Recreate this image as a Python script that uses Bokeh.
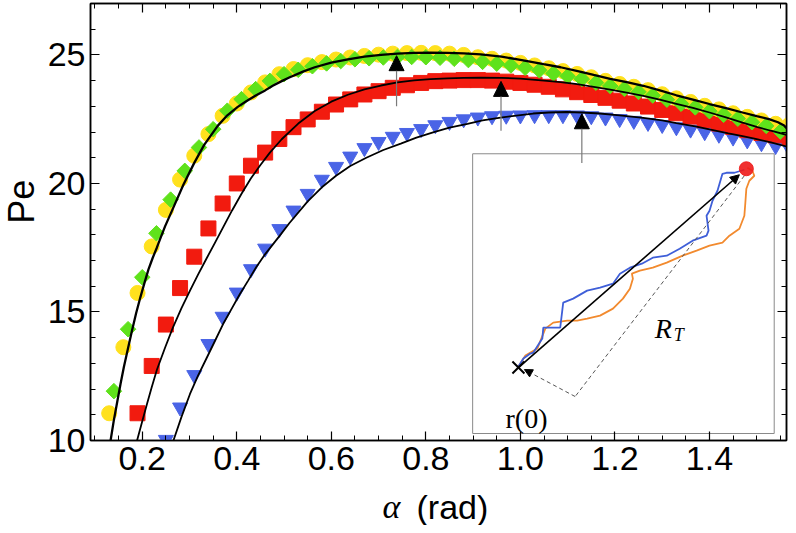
import numpy as np
from bokeh.plotting import figure
from bokeh.layouts import column, row
from bokeh.models import (Range1d, LinearAxis, SingleIntervalTicker, PrintfTickFormatter,
                          Label, Arrow, NormalHead)
from bokeh.core.properties import value
from bokeh.embed import file_html
from bokeh.resources import INLINE

# ---------------- data ----------------
yellow_alpha = [0.13, 0.16, 0.19, 0.22, 0.25, 0.28, 0.31, 0.34, 0.37, 0.40, 0.43, 0.46, 0.49,
                0.52, 0.55, 0.58, 0.61, 0.64, 0.67, 0.70, 0.73, 0.76, 0.79, 0.82, 0.85, 0.88,
                0.91, 0.94, 0.97, 1.00, 1.03, 1.06, 1.09, 1.12, 1.15, 1.18, 1.21, 1.24, 1.27,
                1.30, 1.33, 1.36, 1.39, 1.42, 1.45, 1.48, 1.51, 1.54, 1.57]
yellow_pe = [11.06, 13.63, 15.74, 17.55, 18.97, 20.15, 21.08, 21.92, 22.63, 23.11, 23.54, 23.93, 24.25,
             24.45, 24.60, 24.72, 24.82, 24.90, 24.96, 25.01, 25.05, 25.07, 25.08, 25.07, 25.05, 25.00,
             24.91, 24.85, 24.78, 24.69, 24.59, 24.48, 24.37, 24.26, 24.13, 23.99, 23.87, 23.76, 23.63,
             23.47, 23.31, 23.17, 23.02, 22.88, 22.73, 22.59, 22.45, 22.32, 22.30]

green_alpha = [0.14, 0.17, 0.20, 0.23, 0.26, 0.29, 0.32, 0.35, 0.38, 0.41, 0.44, 0.47, 0.50,
               0.53, 0.56, 0.59, 0.62, 0.65, 0.68, 0.71, 0.74, 0.77, 0.80, 0.83, 0.86, 0.89,
               0.92, 0.95, 0.98, 1.01, 1.04, 1.07, 1.10, 1.13, 1.16, 1.19, 1.22, 1.25, 1.28,
               1.31, 1.34, 1.37, 1.40, 1.43, 1.46, 1.49, 1.52, 1.55]
green_pe = [11.92, 14.33, 16.35, 18.06, 19.37, 20.49, 21.40, 22.11, 22.83, 23.28, 23.67, 23.99, 24.25,
            24.42, 24.56, 24.67, 24.76, 24.83, 24.87, 24.90, 24.92, 24.92, 24.91, 24.89, 24.85, 24.80,
            24.73, 24.66, 24.59, 24.50, 24.40, 24.28, 24.17, 24.06, 23.92, 23.79, 23.68, 23.56, 23.42,
            23.26, 23.10, 22.96, 22.81, 22.67, 22.52, 22.38, 22.24, 22.02]

red_alpha = [0.19, 0.22, 0.25, 0.28, 0.31, 0.34, 0.37, 0.40, 0.43, 0.46, 0.49, 0.52, 0.55,
             0.58, 0.61, 0.64, 0.67, 0.70, 0.73, 0.76, 0.79, 0.82, 0.85, 0.88, 0.91, 0.94,
             0.97, 1.00, 1.03, 1.06, 1.09, 1.12, 1.15, 1.18, 1.21, 1.24, 1.27, 1.30, 1.33,
             1.36, 1.39, 1.42, 1.45, 1.48, 1.51, 1.54, 1.57]
red_pe = [11.06, 12.90, 14.51, 15.93, 17.15, 18.25, 19.22, 20.00, 20.69, 21.20, 21.73, 22.19, 22.49,
          22.79, 23.07, 23.27, 23.46, 23.59, 23.72, 23.82, 23.91, 23.98, 24.00, 24.02, 24.02, 24.00,
          23.96, 23.91, 23.84, 23.76, 23.66, 23.55, 23.44, 23.33, 23.22, 23.11, 22.99, 22.86, 22.73,
          22.60, 22.46, 22.33, 22.20, 22.07, 21.96, 21.87, 21.79]

blue_alpha = [0.25, 0.28, 0.31, 0.34, 0.37, 0.40, 0.43, 0.46, 0.49, 0.52, 0.55, 0.58, 0.61,
              0.64, 0.67, 0.70, 0.73, 0.76, 0.79, 0.82, 0.85, 0.88, 0.91, 0.94, 0.97, 1.00,
              1.03, 1.06, 1.09, 1.12, 1.15, 1.18, 1.21, 1.24, 1.27, 1.30, 1.33, 1.36, 1.39,
              1.42, 1.45, 1.48, 1.51, 1.54, 1.57]
blue_pe = [10.03, 11.29, 12.55, 13.76, 14.82, 15.76, 16.67, 17.47, 18.23, 18.95, 19.60, 20.15, 20.65,
           21.05, 21.38, 21.62, 21.82, 21.97, 22.12, 22.27, 22.40, 22.50, 22.57, 22.62, 22.64, 22.65,
           22.66, 22.66, 22.66, 22.65, 22.62, 22.57, 22.51, 22.44, 22.36, 22.28, 22.19, 22.10, 22.00,
           21.90, 21.79, 21.68, 21.57, 21.46, 21.34]

# fitted (black) curves
fit1_alpha = [0.133, 0.140, 0.147, 0.154, 0.161, 0.170, 0.178, 0.187, 0.196, 0.205, 0.213, 0.222,
              0.231, 0.248, 0.266, 0.287, 0.310, 0.331, 0.360, 0.380, 0.402, 0.420, 0.440, 0.460,
              0.476, 0.495, 0.511, 0.540, 0.565, 0.600, 0.635, 0.670, 0.705, 0.740, 0.775, 0.810,
              0.846, 0.880, 0.916, 0.960, 1.000, 1.049, 1.085, 1.119, 1.155, 1.190, 1.225, 1.260,
              1.295, 1.330, 1.365, 1.400, 1.435, 1.470, 1.500, 1.526, 1.545, 1.558, 1.5708]
fit1_pe = [10.0, 10.8, 11.5, 12.2, 12.85, 13.6, 14.25, 14.95, 15.57, 16.15, 16.65, 17.1,
           17.51, 18.32, 19.07, 19.95, 20.8, 21.5, 22.25, 22.65, 22.98, 23.2, 23.42, 23.62,
           23.8, 23.98, 24.12, 24.35, 24.52, 24.7, 24.83, 24.93, 25.0, 25.05, 25.08, 25.09,
           25.08, 25.06, 25.02, 24.93, 24.81, 24.64, 24.52, 24.38, 24.22, 24.07, 23.94, 23.8,
           23.62, 23.43, 23.26, 23.09, 22.93, 22.76, 22.62, 22.5, 22.38, 22.25, 22.0]

fit2_alpha = [0.189, 0.200, 0.210, 0.220, 0.231, 0.248, 0.265, 0.283, 0.301, 0.318, 0.336, 0.354,
              0.371, 0.390, 0.410, 0.430, 0.450, 0.470, 0.495, 0.530, 0.565, 0.600, 0.635, 0.670,
              0.705, 0.740, 0.775, 0.810, 0.846, 0.880, 0.916, 0.960, 1.000, 1.050, 1.085, 1.120,
              1.155, 1.190, 1.225, 1.260, 1.295, 1.330, 1.365, 1.400, 1.435, 1.470, 1.500, 1.530, 1.5708]
fit2_pe = [10.0, 10.75, 11.42, 12.07, 12.75, 13.6, 14.4, 15.15, 15.83, 16.45, 17.08, 17.7,
           18.29, 18.95, 19.6, 20.2, 20.72, 21.2, 21.72, 22.33, 22.82, 23.18, 23.45, 23.66,
           23.81, 23.93, 24.01, 24.06, 24.09, 24.11, 24.12, 24.11, 24.08, 24.0, 23.94, 23.86,
           23.76, 23.65, 23.53, 23.41, 23.26, 23.1, 22.94, 22.76, 22.57, 22.37, 22.2, 22.05, 21.85]

fit3_alpha = [0.266, 0.283, 0.301, 0.318, 0.336, 0.354, 0.371, 0.389, 0.406, 0.424, 0.441, 0.458,
              0.476, 0.493, 0.511, 0.550, 0.580, 0.610, 0.640, 0.674, 0.710, 0.747, 0.780, 0.817,
              0.850, 0.888, 0.920, 0.958, 1.000, 1.027, 1.060, 1.098, 1.130, 1.168, 1.210, 1.260,
              1.300, 1.330, 1.370, 1.400, 1.440, 1.470, 1.500, 1.530, 1.5708]
fit3_pe = [10.0, 10.92, 11.81, 12.52, 13.2, 13.88, 14.53, 15.12, 15.68, 16.22, 16.74, 17.2,
           17.62, 18.02, 18.45, 19.3, 19.85, 20.3, 20.68, 21.0, 21.3, 21.55, 21.78, 22.0,
           22.17, 22.32, 22.45, 22.56, 22.66, 22.72, 22.76, 22.78, 22.76, 22.72, 22.65, 22.55,
           22.45, 22.35, 22.22, 22.1, 21.95, 21.84, 21.72, 21.6, 21.4]

# vertical arrows pointing to the peaks
arrow_alpha = [0.738, 0.959, 1.130]
arrow_from = [23.00, 22.05, 20.80]
arrow_to = [24.97, 23.97, 22.71]

# inset sketch: two random walks (offsets inside the inset box, in box pixels)
walk_blue_dx = [46, 51, 58, 61, 70, 71, 80, 88, 91, 101, 115, 128, 141, 148, 158, 170, 181, 195,
                208, 221, 235, 237, 235, 238, 241, 246, 251, 255, 263, 273]
walk_blue_dy = [213, 205, 200, 199, 185, 174, 174, 174, 149, 145, 137, 134, 130, 120, 114, 110, 104, 102,
                95, 87, 82, 77, 62, 57, 47, 37, 20, 19, 19, 16]
walk_orange_dx = [46, 53, 65, 73, 81, 95, 105, 115, 128, 141, 151, 158, 161, 160, 168, 181, 195, 211,
                  225, 238, 251, 258, 268, 273, 274, 275, 278, 283, 281, 276]
walk_orange_dy = [213, 202, 195, 175, 169, 167, 167, 165, 162, 155, 145, 135, 125, 120, 117, 114, 109, 102,
                  97, 92, 89, 82, 75, 62, 49, 35, 27, 22, 17, 14]

# ---------------- main figure ----------------
X0, X1 = 0.0905, 1.563
Y0, Y1 = 10.0, 27.0
LEFT_W = 44
p = figure(width=788 - LEFT_W, height=485, output_backend="svg", toolbar_location=None,
           x_range=Range1d(X0, X1), y_range=Range1d(Y0, Y1),
           min_border_left=88 - LEFT_W, min_border_right=2, min_border_top=3, min_border_bottom=45)
p.background_fill_color = "white"
p.border_fill_color = "white"
p.outline_line_color = "black"
p.outline_line_width = 1.5
p.xgrid.grid_line_color = None
p.ygrid.grid_line_color = None

xt = SingleIntervalTicker(interval=0.2, num_minor_ticks=4)
yt = SingleIntervalTicker(interval=5, num_minor_ticks=5)


def style(ax, labels=True):
    ax.axis_line_color = "black"
    ax.axis_line_width = 1.5
    ax.major_tick_in = 9
    ax.major_tick_out = 0
    ax.minor_tick_in = 5
    ax.minor_tick_out = 0
    ax.major_tick_line_width = 1.2
    ax.minor_tick_line_width = 1.0
    ax.major_tick_line_color = "black"
    ax.minor_tick_line_color = "black"
    if labels:
        ax.major_label_text_font = "Liberation Sans"
        ax.major_label_text_font_size = "34px"
        ax.major_label_text_color = "black"
    else:
        ax.major_label_text_font_size = "1px"
        ax.major_label_text_color = None
        ax.major_label_standoff = 0


p.xaxis.ticker = xt
p.yaxis.ticker = yt
p.xaxis.formatter = PrintfTickFormatter(format="%.1f")
p.yaxis.formatter = PrintfTickFormatter(format="%d")
style(p.xaxis[0])
style(p.yaxis[0])
p.xaxis.major_label_standoff = 6
p.yaxis.major_label_standoff = 5

top_ax = LinearAxis(ticker=xt)
style(top_ax, labels=False)
p.add_layout(top_ax, "above")
right_ax = LinearAxis(ticker=yt)
style(right_ax, labels=False)
p.add_layout(right_ax, "right")

# inset box (drawn first, below the data)
IN_L, IN_R, IN_B, IN_T = 0.899, 1.537, 10.272, 21.154
IN_W, IN_H = 303.0, 280.0
p.quad(left=[IN_L], right=[IN_R], bottom=[IN_B], top=[IN_T],
       fill_color="white", line_color="#8a8a8a", line_width=1)

# data markers
p.scatter(blue_alpha, blue_pe, marker="inverted_triangle", size=15, color="#4A64E6")
p.scatter(red_alpha, red_pe, marker="square", size=15, color="#F21B0F")
p.scatter(yellow_alpha, yellow_pe, marker="circle", size=15, color="#FFE11E")
p.scatter(green_alpha, green_pe, marker="square", angle=np.pi / 4, size=11, color="#5FE21B")

# fits
p.line(fit1_alpha, fit1_pe, color="black", line_width=2.3)
p.line(fit2_alpha, fit2_pe, color="black", line_width=1.8)
p.line(fit3_alpha, fit3_pe, color="black", line_width=1.8)

# arrows
for a, y0, y1 in zip(arrow_alpha, arrow_from, arrow_to):
    p.add_layout(Arrow(end=NormalHead(size=15, fill_color="black", line_color="black", line_width=1),
                       x_start=a, y_start=y0, x_end=a, y_end=y1,
                       line_color="#7a7a7a", line_width=1.2))


def ix(dx):
    return [IN_L + d / IN_W * (IN_R - IN_L) for d in dx]


def iy(dy):
    return [IN_T - d / IN_H * (IN_T - IN_B) for d in dy]


# inset content
p.line(ix(walk_orange_dx), iy(walk_orange_dy), color="#F28A2E", line_width=1.8)
p.line(ix(walk_blue_dx), iy(walk_blue_dy), color="#3F5FD8", line_width=1.8)
p.line(ix([273, 103]), iy([22, 243]), color="#555555", line_width=1, line_dash="4 3")
p.add_layout(Arrow(end=NormalHead(size=8, fill_color="black", line_color="black", line_width=1),
                   x_start=ix([103])[0], y_start=iy([243])[0], x_end=ix([52])[0], y_end=iy([216])[0],
                   line_color="#555555", line_width=1, line_dash="4 3"))
p.add_layout(Arrow(end=NormalHead(size=9, fill_color="black", line_color="black", line_width=1),
                   x_start=ix([46])[0], y_start=iy([214])[0], x_end=ix([268])[0], y_end=iy([21])[0],
                   line_color="black", line_width=1.6))
p.scatter(ix([275]), iy([15]), marker="circle", size=14, color="#EE1B1B", alpha=0.9)
p.scatter(ix([46]), iy([214]), marker="x", size=17, line_color="black", line_width=2)

p.add_layout(Label(x=ix([183])[0], y=iy([175])[0], text="R", text_font="Liberation Serif",
                   text_font_style="italic", text_font_size="28px", text_color="black",
                   text_baseline="alphabetic"))
p.add_layout(Label(x=ix([202])[0], y=iy([181])[0], text="T", text_font="Liberation Serif",
                   text_font_style="italic", text_font_size="18px", text_color="black",
                   text_baseline="alphabetic"))
p.add_layout(Label(x=ix([33])[0], y=iy([265])[0], text="r(0)", text_font="Liberation Serif",
                   text_font_size="28px", text_color="black", text_baseline="alphabetic"))


def strip(w, h):
    f = figure(width=w, height=h, output_backend="svg", toolbar_location=None,
               x_range=Range1d(0, w), y_range=Range1d(0, h), min_border=0,
               x_axis_location=None, y_axis_location=None)
    f.outline_line_color = None
    f.xgrid.grid_line_color = None
    f.ygrid.grid_line_color = None
    return f


# ---------------- y-axis title strip ----------------
ls = strip(LEFT_W, 485)
ls.text(x=[21], y=[485 - 220], text=["Pe"], angle=np.pi / 2, text_font=value("Liberation Sans"),
        text_font_size="36px", text_align="center", text_baseline="middle", text_color="black")

# ---------------- x-axis title strip (mixed fonts) ----------------
q = strip(788, 40)
q.text(x=[391], y=[19], text=["\u03b1"], text_font=value("Liberation Serif"),
       text_font_style="italic", text_font_size="34px", text_align="center",
       text_baseline="middle", text_color="black")
q.text(x=[416], y=[19], text=["(rad)"], text_font=value("Liberation Sans"),
       text_font_size="34px", text_align="left", text_baseline="middle", text_color="black")

layout = column(row(ls, p, spacing=0), q, spacing=0)
open("out.html", "w").write(file_html(layout, INLINE))
